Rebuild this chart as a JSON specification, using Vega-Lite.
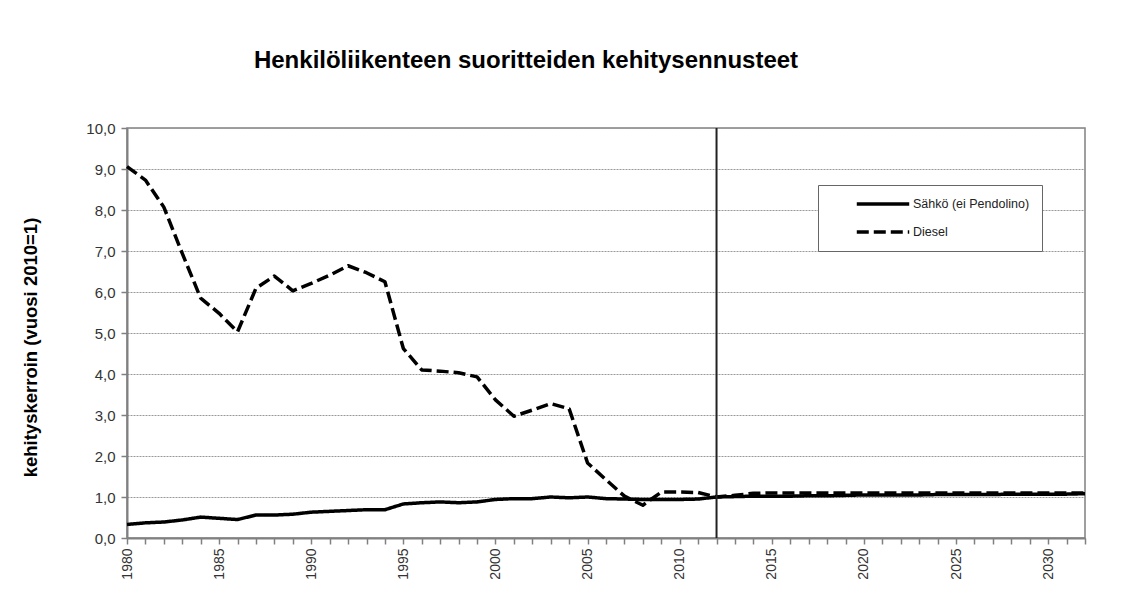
{
  "$schema": "https://vega.github.io/schema/vega-lite/v6.json",
  "width": 958,
  "height": 410,
  "autosize": {"type": "none"},
  "padding": {"left": 127, "top": 128, "right": 46, "bottom": 72},
  "background": "white",
  "config": {
    "font": "Liberation Sans",
    "view": {"stroke": "#808080", "strokeWidth": 1.5}
  },
  "title": {
    "text": "Henkilöliikenteen suoritteiden kehitysennusteet",
    "font": "Liberation Sans",
    "fontSize": 24,
    "fontWeight": "bold",
    "color": "#000",
    "anchor": "middle",
    "dx": -80,
    "offset": 48
  },
  "datasets": {
    "series": [
      {"year": 1980, "series": "Sähkö (ei Pendolino)", "value": 0.33},
      {"year": 1981, "series": "Sähkö (ei Pendolino)", "value": 0.37},
      {"year": 1982, "series": "Sähkö (ei Pendolino)", "value": 0.39},
      {"year": 1983, "series": "Sähkö (ei Pendolino)", "value": 0.44},
      {"year": 1984, "series": "Sähkö (ei Pendolino)", "value": 0.51},
      {"year": 1985, "series": "Sähkö (ei Pendolino)", "value": 0.48},
      {"year": 1986, "series": "Sähkö (ei Pendolino)", "value": 0.45},
      {"year": 1987, "series": "Sähkö (ei Pendolino)", "value": 0.56},
      {"year": 1988, "series": "Sähkö (ei Pendolino)", "value": 0.56},
      {"year": 1989, "series": "Sähkö (ei Pendolino)", "value": 0.58},
      {"year": 1990, "series": "Sähkö (ei Pendolino)", "value": 0.63},
      {"year": 1991, "series": "Sähkö (ei Pendolino)", "value": 0.65},
      {"year": 1992, "series": "Sähkö (ei Pendolino)", "value": 0.67},
      {"year": 1993, "series": "Sähkö (ei Pendolino)", "value": 0.69},
      {"year": 1994, "series": "Sähkö (ei Pendolino)", "value": 0.69},
      {"year": 1995, "series": "Sähkö (ei Pendolino)", "value": 0.83},
      {"year": 1996, "series": "Sähkö (ei Pendolino)", "value": 0.86},
      {"year": 1997, "series": "Sähkö (ei Pendolino)", "value": 0.88},
      {"year": 1998, "series": "Sähkö (ei Pendolino)", "value": 0.86},
      {"year": 1999, "series": "Sähkö (ei Pendolino)", "value": 0.88},
      {"year": 2000, "series": "Sähkö (ei Pendolino)", "value": 0.94},
      {"year": 2001, "series": "Sähkö (ei Pendolino)", "value": 0.96},
      {"year": 2002, "series": "Sähkö (ei Pendolino)", "value": 0.96},
      {"year": 2003, "series": "Sähkö (ei Pendolino)", "value": 1.0},
      {"year": 2004, "series": "Sähkö (ei Pendolino)", "value": 0.98},
      {"year": 2005, "series": "Sähkö (ei Pendolino)", "value": 1.0},
      {"year": 2006, "series": "Sähkö (ei Pendolino)", "value": 0.96},
      {"year": 2007, "series": "Sähkö (ei Pendolino)", "value": 0.95},
      {"year": 2008, "series": "Sähkö (ei Pendolino)", "value": 0.94},
      {"year": 2009, "series": "Sähkö (ei Pendolino)", "value": 0.94},
      {"year": 2010, "series": "Sähkö (ei Pendolino)", "value": 0.94},
      {"year": 2011, "series": "Sähkö (ei Pendolino)", "value": 0.95},
      {"year": 2012, "series": "Sähkö (ei Pendolino)", "value": 1.0},
      {"year": 2013, "series": "Sähkö (ei Pendolino)", "value": 1.01},
      {"year": 2014, "series": "Sähkö (ei Pendolino)", "value": 1.02},
      {"year": 2015, "series": "Sähkö (ei Pendolino)", "value": 1.02},
      {"year": 2016, "series": "Sähkö (ei Pendolino)", "value": 1.02},
      {"year": 2017, "series": "Sähkö (ei Pendolino)", "value": 1.03},
      {"year": 2018, "series": "Sähkö (ei Pendolino)", "value": 1.03},
      {"year": 2019, "series": "Sähkö (ei Pendolino)", "value": 1.04},
      {"year": 2020, "series": "Sähkö (ei Pendolino)", "value": 1.05},
      {"year": 2021, "series": "Sähkö (ei Pendolino)", "value": 1.05},
      {"year": 2022, "series": "Sähkö (ei Pendolino)", "value": 1.05},
      {"year": 2023, "series": "Sähkö (ei Pendolino)", "value": 1.05},
      {"year": 2024, "series": "Sähkö (ei Pendolino)", "value": 1.06},
      {"year": 2025, "series": "Sähkö (ei Pendolino)", "value": 1.06},
      {"year": 2026, "series": "Sähkö (ei Pendolino)", "value": 1.06},
      {"year": 2027, "series": "Sähkö (ei Pendolino)", "value": 1.06},
      {"year": 2028, "series": "Sähkö (ei Pendolino)", "value": 1.07},
      {"year": 2029, "series": "Sähkö (ei Pendolino)", "value": 1.07},
      {"year": 2030, "series": "Sähkö (ei Pendolino)", "value": 1.07},
      {"year": 2031, "series": "Sähkö (ei Pendolino)", "value": 1.07},
      {"year": 2032, "series": "Sähkö (ei Pendolino)", "value": 1.08},
      {"year": 1980, "series": "Diesel", "value": 9.06},
      {"year": 1981, "series": "Diesel", "value": 8.73},
      {"year": 1982, "series": "Diesel", "value": 8.07},
      {"year": 1983, "series": "Diesel", "value": 6.94},
      {"year": 1984, "series": "Diesel", "value": 5.85},
      {"year": 1985, "series": "Diesel", "value": 5.48},
      {"year": 1986, "series": "Diesel", "value": 5.03},
      {"year": 1987, "series": "Diesel", "value": 6.09},
      {"year": 1988, "series": "Diesel", "value": 6.39},
      {"year": 1989, "series": "Diesel", "value": 6.03},
      {"year": 1990, "series": "Diesel", "value": 6.21},
      {"year": 1991, "series": "Diesel", "value": 6.41},
      {"year": 1992, "series": "Diesel", "value": 6.64},
      {"year": 1993, "series": "Diesel", "value": 6.47},
      {"year": 1994, "series": "Diesel", "value": 6.25},
      {"year": 1995, "series": "Diesel", "value": 4.62},
      {"year": 1996, "series": "Diesel", "value": 4.1},
      {"year": 1997, "series": "Diesel", "value": 4.07},
      {"year": 1998, "series": "Diesel", "value": 4.03},
      {"year": 1999, "series": "Diesel", "value": 3.93},
      {"year": 2000, "series": "Diesel", "value": 3.37},
      {"year": 2001, "series": "Diesel", "value": 2.97},
      {"year": 2002, "series": "Diesel", "value": 3.12},
      {"year": 2003, "series": "Diesel", "value": 3.28},
      {"year": 2004, "series": "Diesel", "value": 3.15},
      {"year": 2005, "series": "Diesel", "value": 1.83},
      {"year": 2006, "series": "Diesel", "value": 1.42},
      {"year": 2007, "series": "Diesel", "value": 1.02},
      {"year": 2008, "series": "Diesel", "value": 0.8},
      {"year": 2009, "series": "Diesel", "value": 1.12},
      {"year": 2010, "series": "Diesel", "value": 1.12},
      {"year": 2011, "series": "Diesel", "value": 1.11},
      {"year": 2012, "series": "Diesel", "value": 1.0},
      {"year": 2013, "series": "Diesel", "value": 1.04},
      {"year": 2014, "series": "Diesel", "value": 1.09},
      {"year": 2015, "series": "Diesel", "value": 1.1},
      {"year": 2016, "series": "Diesel", "value": 1.1},
      {"year": 2017, "series": "Diesel", "value": 1.1},
      {"year": 2018, "series": "Diesel", "value": 1.1},
      {"year": 2019, "series": "Diesel", "value": 1.1},
      {"year": 2020, "series": "Diesel", "value": 1.1},
      {"year": 2021, "series": "Diesel", "value": 1.1},
      {"year": 2022, "series": "Diesel", "value": 1.1},
      {"year": 2023, "series": "Diesel", "value": 1.1},
      {"year": 2024, "series": "Diesel", "value": 1.1},
      {"year": 2025, "series": "Diesel", "value": 1.1},
      {"year": 2026, "series": "Diesel", "value": 1.1},
      {"year": 2027, "series": "Diesel", "value": 1.1},
      {"year": 2028, "series": "Diesel", "value": 1.1},
      {"year": 2029, "series": "Diesel", "value": 1.1},
      {"year": 2030, "series": "Diesel", "value": 1.1},
      {"year": 2031, "series": "Diesel", "value": 1.1},
      {"year": 2032, "series": "Diesel", "value": 1.1}
    ],
    "marker": [{"year": 2012}]
  },
  "layer": [
    {
      "data": {"name": "series"},
      "mark": {"type": "line", "color": "#000", "strokeWidth": 3.5, "strokeJoin": "round"},
      "encoding": {
        "x": {
          "field": "year",
          "type": "quantitative",
          "scale": {"domain": [1980, 2032], "nice": false, "zero": false},
          "axis": {
            "title": null,
            "values": [1980,1981,1982,1983,1984,1985,1986,1987,1988,1989,1990,1991,1992,1993,1994,1995,1996,1997,1998,1999,2000,2001,2002,2003,2004,2005,2006,2007,2008,2009,2010,2011,2012,2013,2014,2015,2016,2017,2018,2019,2020,2021,2022,2023,2024,2025,2026,2027,2028,2029,2030,2031,2032],
            "tickCount": 60,
            "labelExpr": "datum.value % 5 === 0 ? '' + datum.value : ''",
            "labelOverlap": false,
            "labelFlush": false,
            "labelAngle": 270,
            "labelFontSize": 14,
            "labelColor": "#333",
            "labelPadding": 4,
            "domainColor": "#808080",
            "domainWidth": 2,
            "tickColor": "#808080",
            "tickWidth": 1.5,
            "tickSize": 6,
            "grid": false
          }
        },
        "y": {
          "field": "value",
          "type": "quantitative",
          "scale": {"domain": [0, 10], "nice": false},
          "axis": {
            "title": "kehityskerroin (vuosi 2010=1)",
            "titleFontSize": 18.5,
            "titleFontWeight": "bold",
            "titleColor": "#000",
            "titlePadding": 45,
            "titleY": 219,
            "values": [0,1,2,3,4,5,6,7,8,9,10],
            "labelExpr": "replace(format(datum.value, '.1f'), '.', ',')",
            "labelFontSize": 15,
            "labelColor": "#333",
            "labelPadding": 6,
            "domainColor": "#808080",
            "domainWidth": 2,
            "tickColor": "#808080",
            "tickWidth": 1.5,
            "tickSize": 6,
            "grid": true,
            "gridColor": "#999",
            "gridDash": [2, 1],
            "gridWidth": 1
          }
        },
        "strokeDash": {
          "field": "series",
          "type": "nominal",
          "scale": {"domain": ["Sähkö (ei Pendolino)", "Diesel"], "range": [[1, 0], [12, 5]]},
          "legend": {
            "title": null,
            "orient": "none",
            "legendX": 691,
            "legendY": 57,
            "strokeColor": "#666",
            "fillColor": "white",
            "padding": 12,
            "symbolOffset": 46,
            "symbolType": "M-5,0H5",
            "symbolSize": 110,
            "symbolStrokeWidth": 3.5,
            "symbolStrokeColor": "#000",
            "labelFontSize": 12.5,
            "labelColor": "#222",
            "labelOffset": 23,
            "rowPadding": 14
          }
        }
      }
    },
    {
      "data": {"name": "marker"},
      "mark": {"type": "rule", "color": "#222", "strokeWidth": 2},
      "encoding": {
        "x": {"field": "year", "type": "quantitative"}
      }
    }
  ]
}
